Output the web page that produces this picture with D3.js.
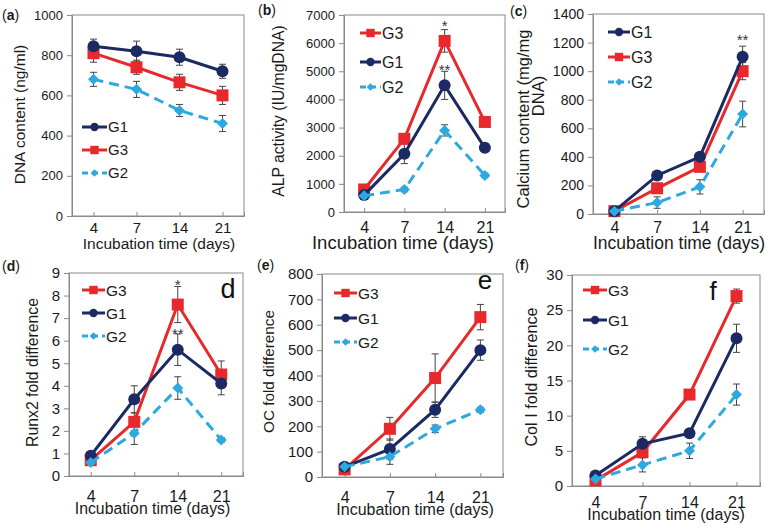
<!DOCTYPE html>
<html><head><meta charset="utf-8">
<script src="https://cdn.jsdelivr.net/npm/d3@7/dist/d3.min.js"></script>
<style>
html,body{margin:0;padding:0;background:#fff;}
svg{display:block;font-family:"Liberation Sans",Arial,sans-serif;}
</style></head>
<body>
<svg id="chart" width="765" height="529"></svg>
<script>
// ---------- data ----------
const days = ["4", "7", "14", "21"];
const groupNames = ["G1", "G2", "G3"];

// (a) DNA content (ng/ml)
const dnaG1 = [845, 820, 790, 720];
const dnaG1Err = [35, 50, 40, 35];
const dnaG3 = [810, 740, 665, 600];
const dnaG3Err = [45, 35, 40, 45];
const dnaG2 = [680, 630, 525, 460];
const dnaG2Err = [35, 40, 30, 40];
const dnaTicks = [0, 200, 400, 600, 800, 1000];

// (b) ALP activity (IU/mgDNA)
const alpG3 = [800, 2600, 6080, 3200];
const alpG3Err = [100, 150, 400, 100];
const alpG1 = [600, 2070, 4500, 2280];
const alpG1Err = [80, 350, 500, 100];
const alpG2 = [580, 800, 2900, 1300];
const alpG2Err = [60, 80, 200, 80];
const alpTicks = [0, 1000, 2000, 3000, 4000, 5000, 6000, 7000];

// (c) Calcium content (mg/mg DNA)
const caG1 = [20, 270, 400, 1100];
const caG1Err = [5, 20, 20, 75];
const caG3 = [20, 180, 330, 1000];
const caG3Err = [5, 20, 25, 60];
const caG2 = [20, 80, 190, 700];
const caG2Err = [5, 40, 50, 90];
const caTicks = [0, 200, 400, 600, 800, 1000, 1200, 1400];

// (d) Runx2 fold difference
const runxG3 = [0.7, 2.4, 7.6, 4.5];
const runxG3Err = [0.1, 0.4, 0.8, 0.6];
const runxG1 = [0.9, 3.4, 5.6, 4.1];
const runxG1Err = [0.1, 0.6, 0.7, 0.5];
const runxG2 = [0.6, 1.9, 3.9, 1.6];
const runxG2Err = [0.1, 0.5, 0.5, 0.1];
const runxTicks = [0, 1, 2, 3, 4, 5, 6, 7, 8, 9];

// (e) OC fold difference
const ocG3 = [30, 190, 390, 630];
const ocG3Err = [5, 45, 95, 50];
const ocG1 = [40, 110, 265, 500];
const ocG1Err = [5, 40, 30, 40];
const ocG2 = [40, 80, 190, 265];
const ocG2Err = [5, 30, 15, 10];
const ocTicks = [0, 100, 200, 300, 400, 500, 600, 700, 800];

// (f) Col I fold difference
const colG3 = [0.8, 4.8, 13, 27];
const colG3Err = [0.2, 0.5, 0.6, 1];
const colG1 = [1.5, 6, 7.5, 21];
const colG1Err = [0.2, 1, 0.4, 2];
const colG2 = [1, 3, 5, 13];
const colG2Err = [0.2, 1, 1.1, 1.5];
const colTicks = [0, 5, 10, 15, 20, 25, 30];

// significance marks: [day, value, text]
const alpMarks = [["14", 6700, "*"], ["14", 5150, "**"]];
const caMarks = [["21", 1240, "**"]];
const runxMarks = [["14", 8.6, "*"], ["14", 6.45, "**"]];

// ---------- styles ----------
const COLORS = {G1: "#1c2a63", G3: "#e8292c", G2: "#2ea9df"};
const AXIS = "#8a8a8a";
const TEXT = "#1a1a1a";

const svg = d3.select("#chart");

const panels = [
  {label: "a", lab: [2, 20], rect: [72, 15, 244, 216],
   ticks: dnaTicks, yTickFs: 13, xTickFs: 15, xTickTop: 222,
   xTitle: [159, 249, 15.5], yTitle: [["DNA content (ng/ml)", 20, 114.5]], yTitleFs: 15.5,
   series: {G1: [dnaG1, dnaG1Err], G3: [dnaG3, dnaG3Err], G2: [dnaG2, dnaG2Err]},
   legend: {order: ["G1", "G3", "G2"], x0: 82, x1: 107, ys: [127, 150, 173], fs: 15},
   marks: []},
  {label: "b", lab: [258, 15], rect: [344, 15, 505, 212],
   ticks: alpTicks, yTickFs: 13, xTickFs: 16, xTickTop: 221,
   xTitle: [403, 249, 18.5], yTitle: [["ALP activity (IU/mgDNA)", 278.5, 111]], yTitleFs: 15.7,
   series: {G3: [alpG3, alpG3Err], G1: [alpG1, alpG1Err], G2: [alpG2, alpG2Err]},
   legend: {order: ["G3", "G1", "G2"], x0: 360, x1: 381, ys: [33, 62, 87], fs: 16},
   marks: alpMarks},
  {label: "c", lab: [510, 16], rect: [593, 14, 764, 214],
   ticks: caTicks, yTickFs: 14, xTickFs: 16, xTickTop: 221,
   xTitle: [679, 249, 17.5], yTitle: [["Calcium content (mg/mg", 523.5, 119], ["DNA)", 538, 96]], yTitleFs: 16.5,
   series: {G1: [caG1, caG1Err], G3: [caG3, caG3Err], G2: [caG2, caG2Err]},
   legend: {order: ["G1", "G3", "G2"], x0: 608, x1: 630, ys: [32, 57, 82], fs: 16},
   marks: caMarks},
  {label: "d", lab: [2, 271], rect: [69, 273, 243, 476],
   ticks: runxTicks, yTickFs: 15, xTickFs: 16, xTickTop: 490,
   xTitle: [152.5, 514, 15.8], yTitle: [["Runx2 fold difference", 32, 372.5]], yTitleFs: 15.8,
   series: {G3: [runxG3, runxG3Err], G1: [runxG1, runxG1Err], G2: [runxG2, runxG2Err]},
   legend: {order: ["G3", "G1", "G2"], x0: 82, x1: 105, ys: [290, 313, 336], fs: 15.5},
   marks: runxMarks, letter: ["d", 228, 298, 27]},
  {label: "e", lab: [257, 270], rect: [322, 274, 503, 477],
   ticks: ocTicks, yTickFs: 15, xTickFs: 16, xTickTop: 491,
   xTitle: [415, 515, 16], yTitle: [["OC fold difference", 269, 371.5]], yTitleFs: 15.3,
   series: {G3: [ocG3, ocG3Err], G1: [ocG1, ocG1Err], G2: [ocG2, ocG2Err]},
   legend: {order: ["G3", "G1", "G2"], x0: 334, x1: 357, ys: [293, 318, 342], fs: 15.5},
   marks: [], letter: ["e", 485, 289, 26]},
  {label: "f", lab: [515, 270], rect: [572, 275, 760, 486],
   ticks: colTicks, yTickFs: 15, xTickFs: 16, xTickTop: 496,
   xTitle: [666, 520, 16], yTitle: [["Col I fold difference", 531, 377]], yTitleFs: 16.2,
   series: {G3: [colG3, colG3Err], G1: [colG1, colG1Err], G2: [colG2, colG2Err]},
   legend: {order: ["G3", "G1", "G2"], x0: 583, x1: 607, ys: [290, 320, 349], fs: 15.5},
   marks: [], letter: ["f", 713, 300, 26]}
];

function drawMarker(g, name, x, y, s) {
  const c = COLORS[name];
  if (name === "G1") {
    g.append("circle").attr("cx", x).attr("cy", y).attr("r", 6 * s).attr("fill", c);
  } else if (name === "G3") {
    const h = 6 * s;
    g.append("rect").attr("x", x - h).attr("y", y - h).attr("width", 2 * h).attr("height", 2 * h).attr("fill", c);
  } else {
    const h = 5.5 * s;
    g.append("path").attr("d", `M${x},${y - h}L${x + h},${y}L${x},${y + h}L${x - h},${y}Z`).attr("fill", c);
  }
}

panels.forEach(p => {
  const [l, t, r, b] = p.rect;
  const yMax = p.ticks[p.ticks.length - 1];
  const x = d3.scalePoint().domain(days).range([l, r]).padding(0.5);
  const y = d3.scaleLinear().domain([0, yMax]).range([b, t]);
  const g = svg.append("g");

  // frame
  g.append("rect").attr("x", l).attr("y", t).attr("width", r - l).attr("height", b - t)
    .attr("fill", "none").attr("stroke", AXIS).attr("stroke-width", 1);

  // y axis
  const ya = g.append("g").attr("transform", `translate(${l},0)`)
    .call(d3.axisLeft(y).tickValues(p.ticks).tickSize(5).tickPadding(4).tickFormat(d3.format("d")));
  ya.select(".domain").attr("stroke", AXIS);
  ya.selectAll(".tick line").attr("stroke", AXIS);
  ya.selectAll("text").attr("fill", TEXT).style("font-size", p.yTickFs + "px")
    .style("font-family", '"Liberation Sans",Arial,sans-serif');

  // x axis
  const xa = g.append("g").attr("transform", `translate(0,${b})`)
    .call(d3.axisBottom(x).tickSize(-4).tickPadding(0));
  xa.select(".domain").attr("stroke", AXIS);
  xa.selectAll(".tick line").attr("stroke", AXIS);
  xa.selectAll("text").attr("fill", TEXT).attr("y", p.xTickTop - b).attr("dy", "0.72em")
    .style("font-size", p.xTickFs + "px").style("font-family", '"Liberation Sans",Arial,sans-serif');

  // x title
  g.append("text").attr("x", p.xTitle[0]).attr("y", p.xTitle[1]).attr("text-anchor", "middle")
    .attr("fill", TEXT).style("font-size", p.xTitle[2] + "px").text("Incubation time (days)");

  // y title(s)
  p.yTitle.forEach(([txt, cx, cy]) => {
    g.append("text").attr("transform", `translate(${cx},${cy}) rotate(-90)`)
      .attr("text-anchor", "middle").attr("dy", "0.35em").attr("fill", TEXT)
      .style("font-size", p.yTitleFs + "px").text(txt);
  });

  // panel label
  const lt = g.append("text").attr("x", p.lab[0]).attr("y", p.lab[1]).attr("fill", TEXT).style("font-size", "14px");
  lt.append("tspan").text("(");
  lt.append("tspan").attr("font-weight", "bold").text(p.label);
  lt.append("tspan").text(")");

  // corner letter
  if (p.letter) {
    g.append("text").attr("x", p.letter[1]).attr("y", p.letter[2]).attr("text-anchor", "middle")
      .attr("fill", "#111").style("font-size", p.letter[3] + "px").text(p.letter[0]);
  }

  // series: draw order G3, G1, G2
  const drawOrder = ["G3", "G1", "G2"];
  const line = d3.line().x((d, i) => x(days[i])).y(d => y(d));

  // error bars first
  drawOrder.forEach(name => {
    const [vals, errs] = p.series[name];
    vals.forEach((v, i) => {
      const cx = x(days[i]);
      const y1 = y(v + errs[i]), y2 = y(v - errs[i]);
      g.append("line").attr("x1", cx).attr("x2", cx).attr("y1", y1).attr("y2", y2)
        .attr("stroke", "#444").attr("stroke-width", 1);
      [y1, y2].forEach(yy => g.append("line").attr("x1", cx - 3.5).attr("x2", cx + 3.5)
        .attr("y1", yy).attr("y2", yy).attr("stroke", "#444").attr("stroke-width", 1));
    });
  });

  drawOrder.forEach(name => {
    const [vals] = p.series[name];
    g.append("path").datum(vals).attr("d", line).attr("fill", "none")
      .attr("stroke", COLORS[name]).attr("stroke-width", 3)
      .attr("stroke-dasharray", name === "G2" ? "10,6" : null);
    vals.forEach((v, i) => drawMarker(g, name, x(days[i]), y(v), 1));
  });

  // significance marks
  p.marks.forEach(([d, v, txt]) => {
    g.append("text").attr("x", x(d)).attr("y", y(v) + 8).attr("text-anchor", "middle")
      .attr("fill", "#333").style("font-size", "15px").text(txt);
  });

  // legend
  const L = p.legend;
  L.order.forEach((name, i) => {
    const yy = L.ys[i];
    g.append("line").attr("x1", L.x0).attr("x2", L.x1).attr("y1", yy).attr("y2", yy)
      .attr("stroke", COLORS[name]).attr("stroke-width", 3)
      .attr("stroke-dasharray", name === "G2" ? "6,4" : null);
    drawMarker(g, name, (L.x0 + L.x1) / 2, yy, 0.7);
    g.append("text").attr("x", L.x1 + 1).attr("y", yy).attr("dy", "0.36em").attr("fill", TEXT)
      .style("font-size", L.fs + "px").text(name);
  });
});
</script>
</body></html>
